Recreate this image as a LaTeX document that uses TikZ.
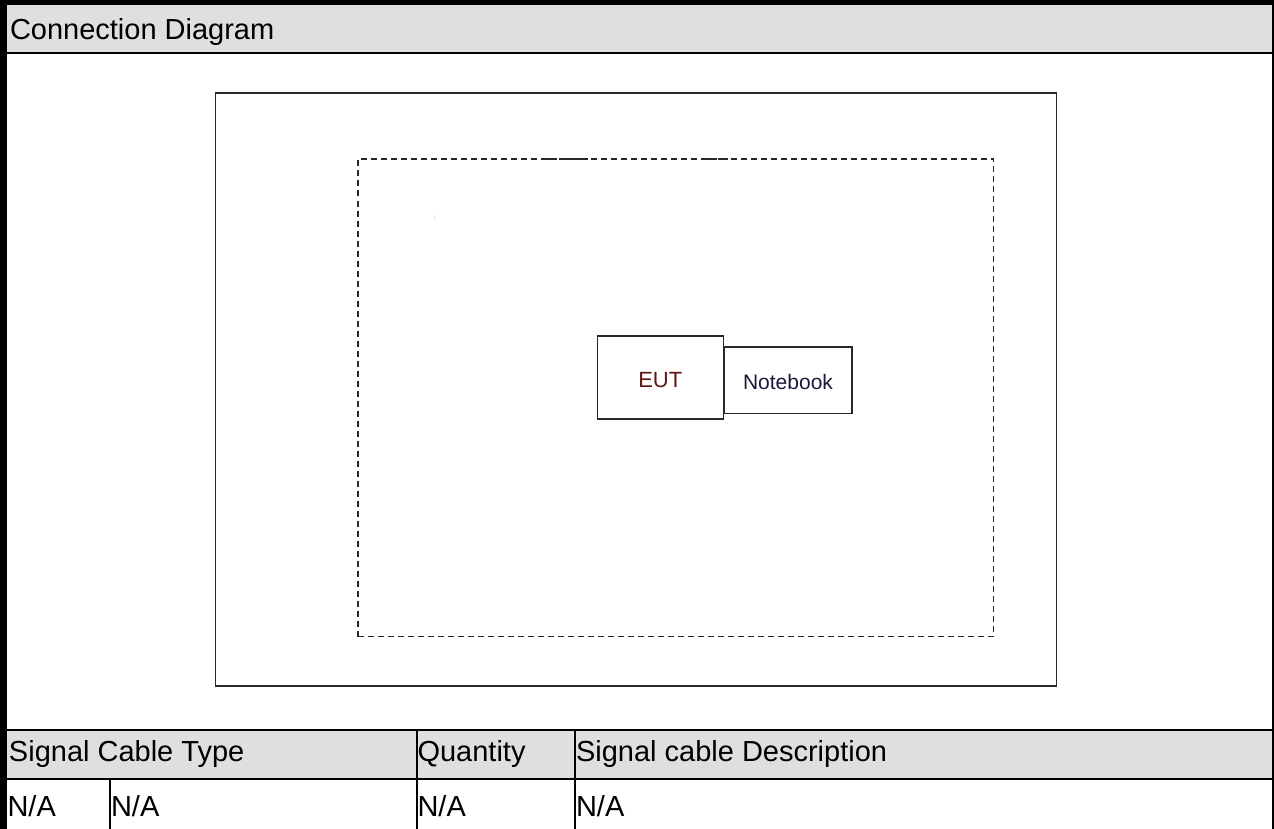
\documentclass[tikz,border=0pt]{standalone}
\usepackage{fontspec}
\setmainfont{Liberation Sans}
\definecolor{bandgray}{RGB}{223,223,223}
\definecolor{eutred}{RGB}{95,20,20}
\definecolor{nbnavy}{RGB}{25,25,60}
\definecolor{boxline}{RGB}{40,40,40}
\begin{document}
\begin{tikzpicture}[x=1pt,y=-1pt,
  rule/.style={line width=2pt,draw=black},
  solidframe/.style={line width=1.7pt,draw=boxline},
  dashframe/.style={line width=1.6pt,draw=boxline,dash pattern=on 6pt off 4pt},
  celltext/.style={anchor=base west,inner sep=0pt,outer sep=0pt,
                   font=\fontsize{29}{34}\selectfont},
  device/.style={draw=boxline,line width=1.6pt,inner sep=0pt,outer sep=0pt,text depth=0pt},
]
\useasboundingbox (0,0) rectangle (1274,829);

% grey title bands
\fill[bandgray] (0,5) rectangle (1273,52);
\fill[bandgray] (0,730) rectangle (1273,779);

% outer frame
\fill[black] (0,0) rectangle (1274,5);
\fill[black] (0,0) rectangle (7,829);
\draw[rule] (1272.5,0) -- (1272.5,829);

% table rules
\draw[rule] (0,53) -- (1273,53);
\draw[rule] (0,730) -- (1273,730);
\draw[rule] (0,779) -- (1273,779);
\draw[rule] (416.5,730) -- (416.5,829);
\draw[rule] (575,730) -- (575,829);
\draw[rule] (110,779) -- (110,829);

% texts of the form
\node[celltext] (title) at (10,40) {Connection Diagram};
\node[celltext] (hType) at (9,761) {Signal Cable Type};
\node[celltext] (hQty) at (417.5,761) {Quantity};
\node[celltext] (hDesc) at (576,761) {Signal cable Description};
\node[celltext] (vA) at (7.5,816) {N/A};
\node[celltext] (vB) at (111,816) {N/A};
\node[celltext] (vC) at (417.5,816) {N/A};
\node[celltext] (vD) at (576,816) {N/A};

% test site outline and test table outline
\draw[solidframe] (215.5,93) rectangle (1056.5,686);
\draw[dashframe] (358,636.5) -- (358,159) -- (993.5,159) -- (993.5,636.5) -- cycle;
% joined dash pieces along the top edge
\foreach \a/\b in {544/556,559/572,576/588,601/603,705/715,718/728,742/745}
  \draw[line width=1.6pt,draw=boxline] (\a,159) -- (\b,159);
\fill[cyan!25] (433.5,215.5) rectangle (434.8,218.8);

% equipment
\node[device,minimum width=126pt,minimum height=83.5pt,text height=19.5pt,
      font=\fontsize{22}{26}\selectfont,text=eutred] (eut) at (660.3,377.5) {EUT};
\node[device,minimum width=127.4pt,minimum height=66.6pt,text height=19pt,
      font=\fontsize{21}{25}\selectfont,text=nbnavy,anchor=west] (nb) at (724.3,380) {Notebook};
\end{tikzpicture}
\end{document}
